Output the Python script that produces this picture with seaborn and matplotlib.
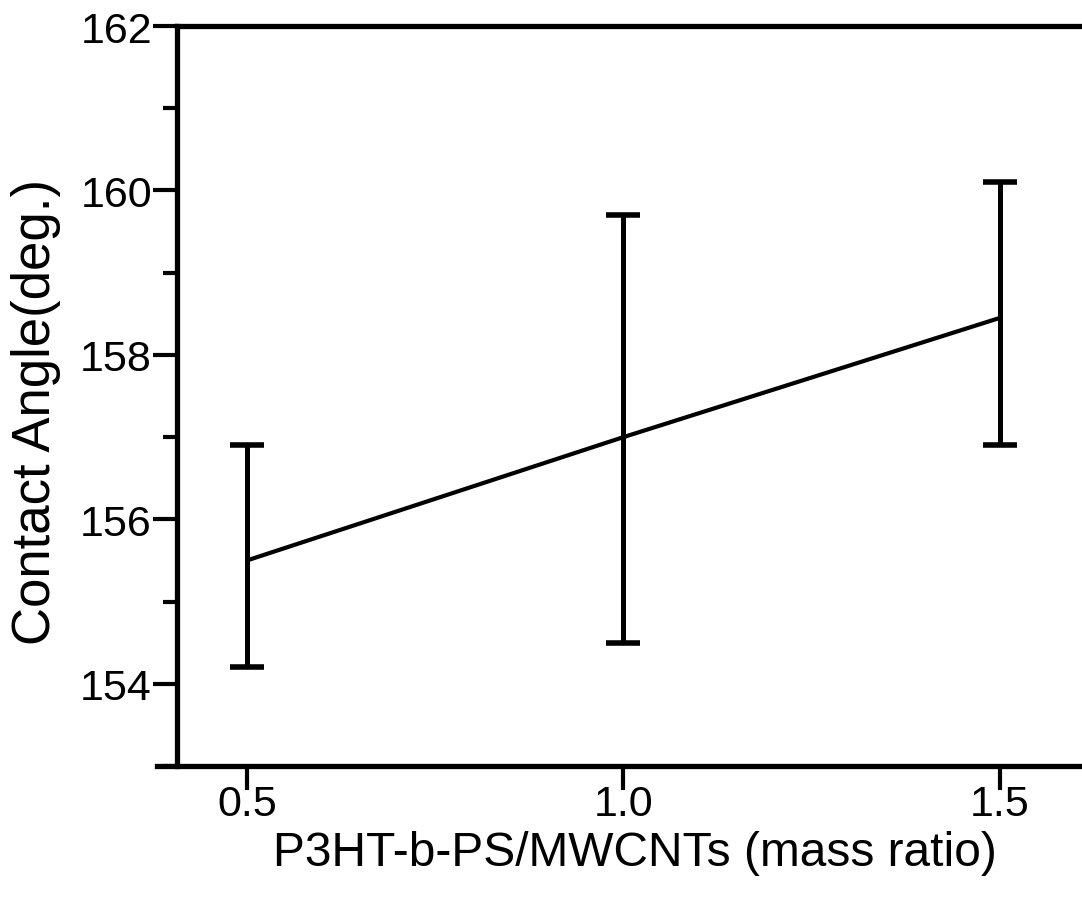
import numpy as np
import pandas as pd
import matplotlib
matplotlib.use("Agg")
import matplotlib.pyplot as plt
import seaborn as sns
from matplotlib.ticker import MultipleLocator

mass_ratio = [0.5, 1.0, 1.5]
contact_angle = [155.5, 157.0, 158.45]
upper = [156.9, 159.7, 160.1]
lower = [154.2, 154.5, 156.9]
x_ticks = [0.5, 1.0, 1.5]
x_tick_labels = ["0.5", "1.0", "1.5"]
y_ticks = [154, 156, 158, 160, 162]

sns.set_theme(style="ticks")
plt.rcParams['font.family'] = ['Liberation Sans', 'DejaVu Sans']

W, H = 1082, 903
fig = plt.figure(figsize=(W / 100, H / 100), dpi=100)
ax = fig.add_axes([157 / W, 1 - 767 / H, 1 - 157 / W, (767 - 27) / H])

df = pd.DataFrame({"ratio": mass_ratio, "angle": contact_angle})
sns.lineplot(data=df, x="ratio", y="angle", color="black", lw=3.0, ax=ax)

yerr = [np.array(contact_angle) - np.array(lower), np.array(upper) - np.array(contact_angle)]
ax.errorbar(mass_ratio, contact_angle, yerr=yerr, fmt="none", ecolor="black",
            elinewidth=3.6, capsize=12, capthick=4)

ax.set_xlim(0.3805, 1.609)
ax.set_ylim(153, 162)
ax.spines['left'].set_position(('data', 0.407))
ax.spines['right'].set_visible(False)
ax.spines['top'].set_bounds(0.407, 1.609)
for s in ax.spines.values():
    s.set_linewidth(3.8)
    s.set_color("black")

ax.set_xticks(x_ticks)
ax.set_xticklabels(x_tick_labels)
ax.set_yticks(y_ticks)
ax.yaxis.set_minor_locator(MultipleLocator(1))
ax.tick_params(axis="x", which="major", direction="out", length=17, width=3,
               labelsize=31, pad=-4, color="black", labelcolor="black")
ax.tick_params(axis="y", which="major", direction="out", length=17, width=3,
               labelsize=31, pad=1, color="black", labelcolor="black")
ax.tick_params(axis="y", which="minor", direction="out", length=10, width=3, color="black")

ax.set_xlabel("P3HT-b-PS/MWCNTs (mass ratio)", fontsize=34.5, color="black")
ax.set_ylabel("Contact Angle(deg.)", fontsize=38, color="black")
ax.xaxis.label.set_va("center")
ax.yaxis.label.set_va("center")
ax.xaxis.set_label_coords((635 - 157) / 925, (767 - 854) / 740)
ax.yaxis.set_label_coords((36 - 157) / 925, (767 - 412) / 740)

fig.savefig("out.png", dpi=100, facecolor="white")
